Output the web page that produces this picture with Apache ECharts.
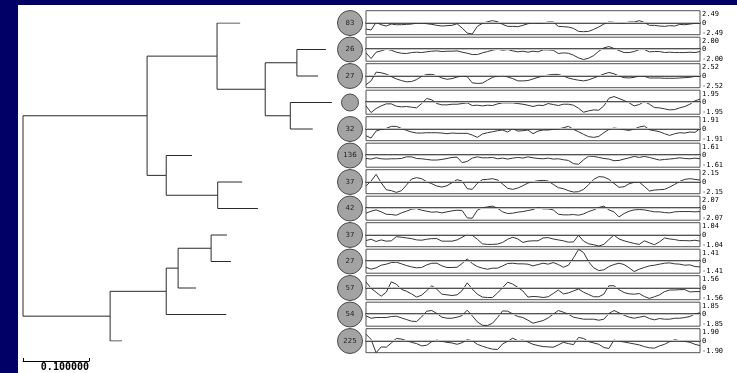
<!DOCTYPE html>
<html>
<head>
<meta charset="utf-8">
<script src="https://cdn.jsdelivr.net/npm/echarts@6/dist/echarts.min.js"></script>
<style>
  html,body{margin:0;padding:0;background:#000066;width:737px;height:373px;overflow:hidden;}
  #panel{position:absolute;left:18px;top:5px;width:719px;height:368px;background:#ffffff;}
  #chart{position:absolute;left:0;top:0;width:737px;height:373px;}
</style>
</head>
<body>
<div id="panel"></div>
<div id="chart"></div>
<script>
// ---------- DATA ----------
// cluster sizes shown in the circles (top to bottom); null = no label
const clusterCounts = [83, 26, 27, null, 32, 136, 37, 42, 37, 27, 57, 54, 225];
// dendrogram: distance at which each leaf branch ends
const leafHeights = [0.329, 0.459, 0.447, 0.468, 0.439, 0.256, 0.332, 0.356, 0.309, 0.315, 0.262, 0.308, 0.150];
// merges: [childA, childB, merge distance]; new node ids continue after the leaves
const merges = [
  [1, 2, 0.415],
  [3, 4, 0.405],
  [13, 14, 0.367],
  [0, 15, 0.294],
  [6, 7, 0.295],
  [5, 17, 0.217],
  [16, 18, 0.188],
  [8, 9, 0.285],
  [20, 10, 0.235],
  [21, 11, 0.217],
  [22, 12, 0.132],
  [19, 23, 0.0]
];
const scaleBarLength = 0.1;
// profile axis ranges (±)
const profileRanges = [2.49, 2.00, 2.52, 1.95, 1.91, 1.61, 2.15, 2.07, 1.04, 1.41, 1.56, 1.85, 1.90];
// profiles (67 samples each)
const profile1 = [-1.31,-1.52,0.07,-0.42,-0.69,-0.28,-0.42,-0.42,-0.35,-0.28,-0.07,-0.07,-0.21,-0.35,-0.55,-0.69,-0.62,-0.55,-0.21,-1.11,-2.15,-2.35,-0.76,-0.14,0.21,0.42,0.21,-0.35,-0.76,-0.76,-0.83,-0.55,-0.21,0,-0.14,-0.07,0.14,0.14,-0.76,-0.83,-0.9,-1.18,-1.8,-1.87,-1.8,-1.38,-0.9,-0.28,0.14,0.07,-0.07,-0.07,0.14,0.14,0.42,0.07,-0.55,-0.55,-0.69,-0.76,-0.62,-0.69,-0.35,-0.42,-0.28,-0.14,-0.14];
const profile2 = [-0.61,-1.56,-0.5,-0.28,0,-0.17,-0.5,-0.67,-0.72,-0.56,-0.5,-0.56,-0.44,-0.33,-0.28,-0.39,-0.33,-0.33,-0.28,-0.5,-0.67,-0.89,-0.89,-0.61,-0.39,-0.17,0,-0.17,-0.06,-0.28,-0.44,-0.33,-0.5,-0.33,-0.44,-0.11,-0.11,-0.17,-0.72,-0.61,-0.67,-1.0,-1.45,-1.72,-1.5,-1.06,-0.33,0.22,0.44,0.11,-0.22,-0.56,-0.56,-0.39,-0.06,-0.06,-0.44,-0.39,-0.39,-0.56,-0.5,-0.56,-0.56,-0.56,-0.5,-0.56,-0.39];
const profile3 = [-1.9,-1.09,0.75,0.61,0.34,-0.2,-0.68,-1.02,-1.29,-1.22,-0.82,-0.14,0.27,0.27,0,-0.48,-0.75,-0.61,-0.27,-0.07,-0.2,-1.5,-1.63,-1.56,-0.95,-0.34,-0.07,0.07,-0.27,-0.61,-1.09,-1.09,-1.02,-0.68,-0.34,-0.07,0.14,0.27,0.27,-0.07,-0.48,-0.75,-0.95,-1.09,-0.88,-0.48,-0.07,0.34,0.68,0.41,-0.07,-0.41,-0.48,-0.34,-0.07,-0.14,-0.48,-0.48,-0.48,-0.54,-0.54,-0.54,-0.48,-0.41,-0.34,-0.14,-0.07];
const profile4 = [-0.6,-1.68,-1.03,-0.6,-0.27,-0.27,-0.65,-0.76,-0.7,-0.81,-0.92,-0.22,0.6,0.38,-0.22,-0.43,-0.43,-0.33,-0.33,-0.22,-0.11,-0.54,-0.49,-0.6,-0.49,-0.54,-0.27,-0.11,-0.11,-0.11,-0.22,-0.33,-0.49,-0.7,-0.49,-0.54,-0.22,-0.38,-0.54,-0.33,-0.33,-0.49,-0.98,-1.63,-1.41,-1.25,-1.3,-0.6,0.65,0.92,0.6,0.27,-0.11,-0.6,-0.38,0.11,-0.33,-0.87,-0.92,-1.08,-1.25,-1.19,-0.92,-0.7,-0.33,0.22,0.49];
const profile5 = [-1.12,-1.49,-0.37,-0.11,0.05,0.37,0.37,0.05,-0.27,-0.53,-0.69,-0.69,-0.64,-0.64,-0.64,-0.69,-0.8,-0.69,-0.74,-0.74,-0.74,-1.01,-1.38,-0.85,-0.64,-0.48,-0.32,-0.21,-0.53,0,-0.37,-0.32,-0.21,-0.8,-0.37,-0.21,-0.21,-0.11,-0.05,0.16,0.37,-0.11,-0.48,-0.9,-1.27,-1.38,-1.22,-0.64,-0.11,0.11,0,-0.16,-0.27,-0.05,0.27,0.42,-0.16,-0.32,-0.48,-0.8,-1.06,-0.8,-0.64,-0.69,-0.53,-0.58,0];
const profile6 = [-0.44,-0.52,-0.35,-0.48,-0.52,-0.48,-0.48,-0.44,-0.22,-0.22,-0.44,-0.48,-0.57,-0.65,-0.65,-0.57,-0.44,-0.3,-0.26,-1.0,-0.83,-0.39,-0.22,-0.35,-0.35,-0.3,-0.48,-0.39,-0.52,-0.39,-0.3,-0.39,-0.22,-0.35,-0.44,-0.48,-0.39,-0.52,-0.48,-0.61,-0.7,-1.13,-1.22,-0.61,-0.13,-0.17,-0.3,-0.44,-0.52,-0.74,-0.7,-0.52,-0.35,-0.17,-0.3,-0.17,-0.3,-0.48,-0.65,-0.57,-0.52,-0.44,-0.35,-0.44,-0.48,-0.39,-0.48];
const profile7 = [-0.78,0.12,1.31,-0.18,-1.43,-1.61,-1.91,-1.61,-0.6,0.48,0.72,0.54,0,-0.36,-0.78,-0.96,-0.72,-0.18,0.36,0.12,-1.25,-1.37,-0.3,0.36,0.42,0.54,0.3,-0.42,-1.19,-1.37,-1.13,-0.72,-0.24,0,0.18,0.24,0.12,-0.48,-1.07,-1.25,-1.61,-1.85,-1.79,-1.37,-0.54,0.42,0.9,0.84,0.42,-0.3,-1.01,-0.9,-0.36,-0.12,-0.06,-0.84,-1.67,-1.49,-1.43,-1.37,-0.96,-0.48,0.06,0.42,0.54,0.42,0.3];
const profile8 = [-0.86,-0.52,-0.29,-0.63,-1.04,-1.09,-1.21,-0.81,-0.52,-0.17,-0.06,-0.35,-0.52,-0.69,-0.63,-0.81,-0.63,-0.46,-0.35,-0.4,-1.67,-1.73,-0.35,0.06,0.23,0.35,0,-0.63,-0.92,-0.86,-0.69,-0.58,-0.4,-0.23,0.12,-0.12,-0.12,-0.29,-1.04,-1.15,-1.15,-1.09,-1.21,-0.98,-0.58,-0.29,0.12,0.35,-0.29,-0.63,-1.5,-0.92,-0.52,-0.29,-0.23,-0.29,-0.46,-0.63,-0.63,-0.75,-0.81,-0.63,-0.58,-0.58,-0.58,-0.63,-0.58];
const profile9 = [-0.51,-0.39,-0.59,-0.45,-0.56,-0.53,-0.17,-0.22,-0.28,-0.34,-0.45,-0.48,-0.39,-0.34,-0.34,-0.56,-0.56,-0.56,-0.45,-0.22,0.03,-0.06,-0.39,-0.79,-0.84,-0.84,-0.81,-0.67,-0.39,-0.22,-0.37,-0.67,-0.56,-0.53,-0.53,-0.28,-0.25,-0.37,-0.45,-0.53,-0.65,-0.62,-0.06,-0.56,-0.79,-0.87,-0.98,-0.84,-0.42,-0.03,-0.37,-0.53,-0.65,-0.76,-0.84,-0.53,-0.7,-0.87,-0.62,-0.28,-0.37,-0.42,-0.51,-0.51,-0.53,-0.48,-0.56];
const profile10 = [-0.71,-0.94,-0.78,-0.47,-0.35,-0.16,-0.12,-0.31,-0.51,-0.67,-0.78,-0.74,-0.43,-0.24,-0.24,-0.55,-0.74,-0.74,-0.71,-0.27,0.27,-0.27,-0.63,-0.82,-0.94,-0.82,-0.82,-0.55,-0.27,-0.24,-0.31,-0.31,-0.35,-0.55,-0.39,-0.24,-0.35,-0.16,-0.39,-0.71,-0.47,0.39,1.38,1.02,-0.08,-0.78,-1.1,-1.02,-0.63,-0.39,-0.24,-0.39,-0.78,-1.22,-0.94,-0.74,-0.55,-0.47,-0.35,-0.24,-0.2,-0.31,-0.35,-0.47,-0.43,-0.63,-0.67];
const profile11 = [0.76,-0.08,-0.59,-1.1,-0.59,0.76,0.46,-0.21,-0.46,-0.8,-1.22,-0.97,-0.38,0.25,-0.21,-0.84,-0.93,-1.01,-0.93,-0.38,0.63,-0.17,-0.84,-1.22,-1.27,-1.27,-0.68,0,0.72,0.46,0.04,-0.42,-1.22,-1.14,-1.18,-1.27,-1.18,-0.76,-0.3,-0.8,-0.68,-0.42,-0.17,-0.59,-0.89,-1.18,-1.18,-0.84,0.25,0.25,-0.25,-0.63,-0.8,-0.84,-0.76,-1.14,-1.39,-1.18,-0.93,-0.51,-0.3,-0.3,-0.25,-0.25,-0.55,-0.51,-0.51];
const profile12 = [-0.26,-0.62,-0.51,-0.51,-0.51,-0.36,-0.31,-0.57,-0.82,-1.08,-1.13,-0.41,0.46,0.57,0.1,-0.46,-0.62,-0.62,-0.46,-0.21,0.62,-0.26,-1.18,-1.7,-1.75,-1.39,-0.51,0.51,0.46,0.05,-0.36,-0.51,-0.93,-1.39,-1.18,-0.98,-0.57,0,0.57,0.31,0,-0.46,-0.62,-0.77,-0.77,-0.77,-0.93,-0.77,0.1,0.57,0.21,-0.15,-0.46,-0.62,-0.46,-0.31,-0.67,-0.87,-0.67,-0.77,-0.77,-0.62,-0.62,-0.51,-0.36,0.05,0.21];
const profile13 = [1.03,0.21,-1.9,-0.98,-1.03,-0.36,0.36,0.26,0,-0.26,-0.46,-0.82,-0.72,-0.15,0.1,-0.1,-0.26,-0.36,-0.57,-0.31,0.15,0,-0.57,-0.87,-1.13,-1.34,-1.39,-0.51,-0.1,0.41,0,0.1,-0.21,-0.57,-0.77,-0.93,-0.98,-1.03,-0.67,-0.26,-0.46,-0.62,0.51,0.36,-0.15,-0.36,-0.57,-1.08,-1.23,0.1,-0.05,-0.21,-0.36,-0.51,-0.67,-0.93,-1.13,-1.18,-0.82,-0.57,-0.15,0.15,0,-0.1,-0.26,-0.57,-0.77];
const profiles = [profile1,profile2,profile3,profile4,profile5,profile6,profile7,profile8,profile9,profile10,profile11,profile12,profile13];
const timePoints = profile1.map((_, i) => String(i + 1));

// ---------- BUILD ----------
const nLeaf = leafHeights.length;
const nodeH = leafHeights.slice();
const nodeY = leafHeights.map((_, i) => i);
const treeSegments = [];
merges.forEach(([a, b, h]) => {
  const y = (nodeY[a] + nodeY[b]) / 2;
  [a, b].forEach(c => {
    treeSegments.push({ coords: [[nodeH[c], nodeY[c]], [h, nodeY[c]], [h, y]] });
  });
  nodeH.push(h); nodeY.push(y);
});

const mono = 'DejaVu Sans Mono';
const grids = [
  { left: 23, top: 23, width: 330, height: 318 },          // dendrogram
  { left: 23, top: 360, width: 66, height: 1 },            // scale bar
  { left: 337, top: 9.75, width: 26, height: 344.5 }       // circles
];
const xAxes = [
  { type: 'value', gridIndex: 0, min: 0, max: 0.5, show: false },
  { type: 'value', gridIndex: 1, min: 0, max: scaleBarLength, interval: scaleBarLength,
    axisLine: { show: true, lineStyle: { color: '#000', width: 1 } },
    axisTick: { show: true, inside: true, length: 3, lineStyle: { color: '#000' } },
    splitLine: { show: false },
    axisLabel: { show: true, margin: 1, fontFamily: mono, fontWeight: 'bold', fontSize: 10, color: '#000',
      alignMaxLabel: 'right', formatter: v => v > 0 ? v.toFixed(6) : '' } },
  { type: 'category', gridIndex: 2, data: [''], show: false }
];
const yAxes = [
  { type: 'value', gridIndex: 0, min: 0, max: nLeaf - 1, inverse: true, show: false },
  { type: 'value', gridIndex: 1, show: false },
  { type: 'category', gridIndex: 2, data: clusterCounts.map((_, i) => 'c' + i), inverse: true, show: false }
];
const series = [
  { type: 'lines', coordinateSystem: 'cartesian2d', xAxisIndex: 0, yAxisIndex: 0, polyline: true,
    silent: true, data: treeSegments, lineStyle: { color: '#2a2a2a', width: 1, opacity: 1 } },
  { type: 'scatter', xAxisIndex: 2, yAxisIndex: 2,
    data: clusterCounts.map((c, i) => [0, i]),
    symbolSize: (v, p) => clusterCounts[p.dataIndex] == null ? 17 : 25,
    itemStyle: { color: '#a3a3a3', borderColor: '#4a4a4a', borderWidth: 1, opacity: 1 },
    label: { show: true, position: 'inside', fontFamily: 'DejaVu Sans', fontSize: 7, color: '#222',
      formatter: p => clusterCounts[p.dataIndex] == null ? '' : String(clusterCounts[p.dataIndex]) } }
];

profiles.forEach((prof, i) => {
  const gi = grids.length;
  const r = profileRanges[i];
  grids.push({ left: 366, top: 10.7 + 26.5 * i, width: 334, height: 24, show: true,
    borderColor: '#505050', borderWidth: 1, backgroundColor: '#fff' });
  xAxes.push({ type: 'category', gridIndex: gi, data: timePoints, boundaryGap: false,
    axisLine: { show: true, lineStyle: { color: '#1a1a1a', width: 1.5 } },
    axisTick: { show: false }, axisLabel: { show: false }, splitLine: { show: false } });
  yAxes.push({ type: 'value', gridIndex: gi, position: 'right', min: -r, max: r, interval: r,
    axisLine: { show: false }, axisTick: { show: false }, splitLine: { show: false },
    axisLabel: { show: true, margin: 2, fontFamily: mono, fontSize: 7, color: '#000',
      formatter: v => Math.abs(v) < 1e-9 ? '{z|0}' : (v > 0 ? '{t|' + v.toFixed(2) + '}' : '{b|' + v.toFixed(2) + '}'),
      rich: {
        t: { fontFamily: mono, fontSize: 7, color: '#000', padding: [7, 0, 0, 0] },
        b: { fontFamily: mono, fontSize: 7, color: '#000', padding: [0, 0, 4, 0] },
        z: { fontFamily: mono, fontSize: 7, color: '#000' }
      } } });
  series.push({ type: 'line', xAxisIndex: gi, yAxisIndex: gi, data: prof, showSymbol: false,
    silent: true, lineStyle: { color: '#353535', width: 1 },
    markLine: { silent: true, symbol: 'none', label: { show: false },
      lineStyle: { color: '#c4c4c4', width: 1, type: 'solid' }, data: [{ yAxis: 0 }] },
    z: 3 });
});

const chart = echarts.init(document.getElementById('chart'), null, { renderer: 'canvas' });
chart.setOption({
  backgroundColor: 'transparent',
  animation: false,
  grid: grids, xAxis: xAxes, yAxis: yAxes, series: series
});
</script>
</body>
</html>
